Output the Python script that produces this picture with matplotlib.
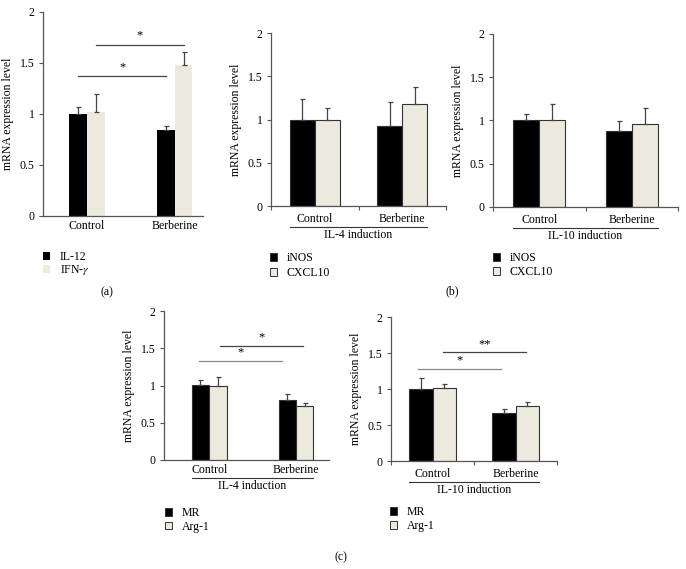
import matplotlib
matplotlib.use("Agg")
import matplotlib.pyplot as plt
from matplotlib.patches import Patch
from matplotlib.transforms import blended_transform_factory, offset_copy

plt.rcParams["font.family"] = ["Liberation Serif", "DejaVu Serif"]
plt.rcParams["mathtext.fontset"] = "stix"

# ===== data =====
groups = ["Control", "Berberine"]

a_il12 = [1.00, 0.84]
a_il12_err = [0.07, 0.04]
a_ifng = [1.02, 1.48]
a_ifng_err = [0.18, 0.13]

b1_inos = [1.00, 0.92]
b1_inos_err = [0.24, 0.28]
b1_cxcl10 = [1.00, 1.18]
b1_cxcl10_err = [0.13, 0.19]

b2_inos = [1.00, 0.88]
b2_inos_err = [0.08, 0.11]
b2_cxcl10 = [1.01, 0.96]
b2_cxcl10_err = [0.18, 0.18]

c1_mr = [1.01, 0.81]
c1_mr_err = [0.06, 0.08]
c1_arg1 = [0.99, 0.72]
c1_arg1_err = [0.12, 0.05]

c2_mr = [1.00, 0.66]
c2_mr_err = [0.15, 0.06]
c2_arg1 = [1.01, 0.77]
c2_arg1_err = [0.06, 0.05]

# significance brackets: (x1, x2, y, label)
a_sig = [(-0.1, 0.9, 1.37, "*"), (0.1, 1.1, 1.68, "*")]
c1_sig = [(-0.12, 0.84, 1.33, "*"), (0.12, 1.08, 1.53, "*")]
c2_sig = [(-0.17, 0.82, 1.28, "*"), (0.13, 1.13, 1.51, "**")]

DARK = "#000000"
LIGHT = "#ECE9DF"
AXC = "#555555"
W, H = 686, 569

fig = plt.figure(figsize=(W / 100, H / 100), dpi=100)


def make_ax(x0, y0, x1, y1):
    """axes from pixel box (left, top, right, bottom)"""
    return fig.add_axes([x0 / W, 1 - y1 / H, (x1 - x0) / W, (y1 - y0) / H])


def below(ax, dy):
    trans = blended_transform_factory(ax.transData, ax.transAxes)
    return offset_copy(trans, fig=fig, x=0, y=-dy, units="dots")


def panel(ax, s1, e1, s2, e2, w, xlim, edge, ticks, cat_dy, induction=None,
          sig=None):
    x = [0, 1]
    ekw = dict(ecolor="#444444", elinewidth=0.9, capsize=1.8, capthick=0.9)
    lw = 0.8 if edge else 0
    ax.bar([i - w / 2 for i in x], s1, w, color=DARK, edgecolor="#333333",
           linewidth=lw, yerr=[[0, 0], e1], error_kw=ekw, zorder=2)
    ax.bar([i + w / 2 for i in x], s2, w, color=LIGHT, edgecolor="#333333",
           linewidth=lw, yerr=[[0, 0], e2], error_kw=ekw, zorder=2)
    ax.set_ylim(0, 2)
    ax.set_xlim(*xlim)
    ax.set_yticks([0, 0.5, 1, 1.5, 2])
    ax.set_yticklabels(["0", "0.5", "1", "1.5", "2"])
    for sp in ["top", "right"]:
        ax.spines[sp].set_visible(False)
    for sp in ["left", "bottom"]:
        ax.spines[sp].set_color(AXC)
        ax.spines[sp].set_linewidth(0.9)
    ax.tick_params(axis="y", length=3, width=0.8, color=AXC, labelsize=8.5,
                   pad=3)
    if ticks:
        ax.set_xticks([-0.5, 0.5, 1.5])
        ax.tick_params(axis="x", length=3, width=0.8, color=AXC,
                       labelbottom=False)
    else:
        ax.set_xticks([])
    ax.set_ylabel("mRNA expression level", fontsize=8.5, labelpad=4)
    for i, g in enumerate(groups):
        ax.text(i, 0, g, transform=below(ax, cat_dy), ha="center",
                va="center", fontsize=8.5)
    if induction:
        ax.plot([-w, 1 + w], [0, 0], transform=below(ax, cat_dy + 8),
                color="#333333", lw=0.8, clip_on=False)
        ax.text(0.5, 0, induction, transform=below(ax, cat_dy + 16),
                ha="center", va="center", fontsize=8.5)
    if sig:
        for k, (x1, x2, y, lab) in enumerate(sig):
            col = "#888888" if (k == 0 and edge) else "#444444"
            ax.plot([x1, x2], [y, y], color=col, lw=0.9, zorder=3)
            ax.text((x1 + x2) / 2, y + 0.03, lab, ha="center", va="bottom",
                    fontsize=9)


def legend(labels, px, py, edge, spacing):
    ec = "#333333" if edge else "none"
    handles = [Patch(facecolor=DARK, edgecolor=ec, linewidth=0.7),
               Patch(facecolor=LIGHT, edgecolor=ec, linewidth=0.7)]
    fig.legend(handles, labels, loc="upper left",
               bbox_to_anchor=(px / W, 1 - py / H), frameon=False,
               fontsize=8.5, handlelength=0.6, handleheight=0.6,
               handletextpad=0.8, labelspacing=spacing, borderpad=0,
               borderaxespad=0)


# (a)
ax_a = make_ax(43, 12, 203, 216)
panel(ax_a, a_il12, a_il12_err, a_ifng, a_ifng_err, 0.2, (-0.5, 1.32),
      False, False, 10, sig=a_sig)
legend(["IL-12", "IFN-$\\gamma$"], 43, 251, False, 0.0)

# (b)
ax_b1 = make_ax(271, 33, 446, 206)
panel(ax_b1, b1_inos, b1_inos_err, b1_cxcl10, b1_cxcl10_err, 0.286,
      (-0.5, 1.5), True, True, 13, induction="IL-4 induction")
legend(["iNOS", "CXCL10"], 270, 252, True, 0.25)

ax_b2 = make_ax(493, 34, 678, 207)
panel(ax_b2, b2_inos, b2_inos_err, b2_cxcl10, b2_cxcl10_err, 0.28,
      (-0.5, 1.5), True, True, 13, induction="IL-10 induction")
legend(["iNOS", "CXCL10"], 493, 252, True, 0.2)

# (c)
ax_c1 = make_ax(164, 311, 329, 460)
panel(ax_c1, c1_mr, c1_mr_err, c1_arg1, c1_arg1_err, 0.2, (-0.52, 1.38),
      True, False, 10, induction="IL-4 induction", sig=c1_sig)
legend(["MR", "Arg-1"], 165, 507, True, 0.15)

ax_c2 = make_ax(391, 317, 557, 461)
panel(ax_c2, c2_mr, c2_mr_err, c2_arg1, c2_arg1_err, 0.28, (-0.5, 1.5),
      True, True, 13, induction="IL-10 induction", sig=c2_sig)
legend(["MR", "Arg-1"], 390, 506, True, 0.2)

fig.text(107 / W, 1 - 292 / H, "(a)", ha="center", va="center", fontsize=8.5)
fig.text(452 / W, 1 - 291 / H, "(b)", ha="center", va="center", fontsize=8.5)
fig.text(341 / W, 1 - 557 / H, "(c)", ha="center", va="center", fontsize=8.5)

fig.savefig("out.png", dpi=100)
